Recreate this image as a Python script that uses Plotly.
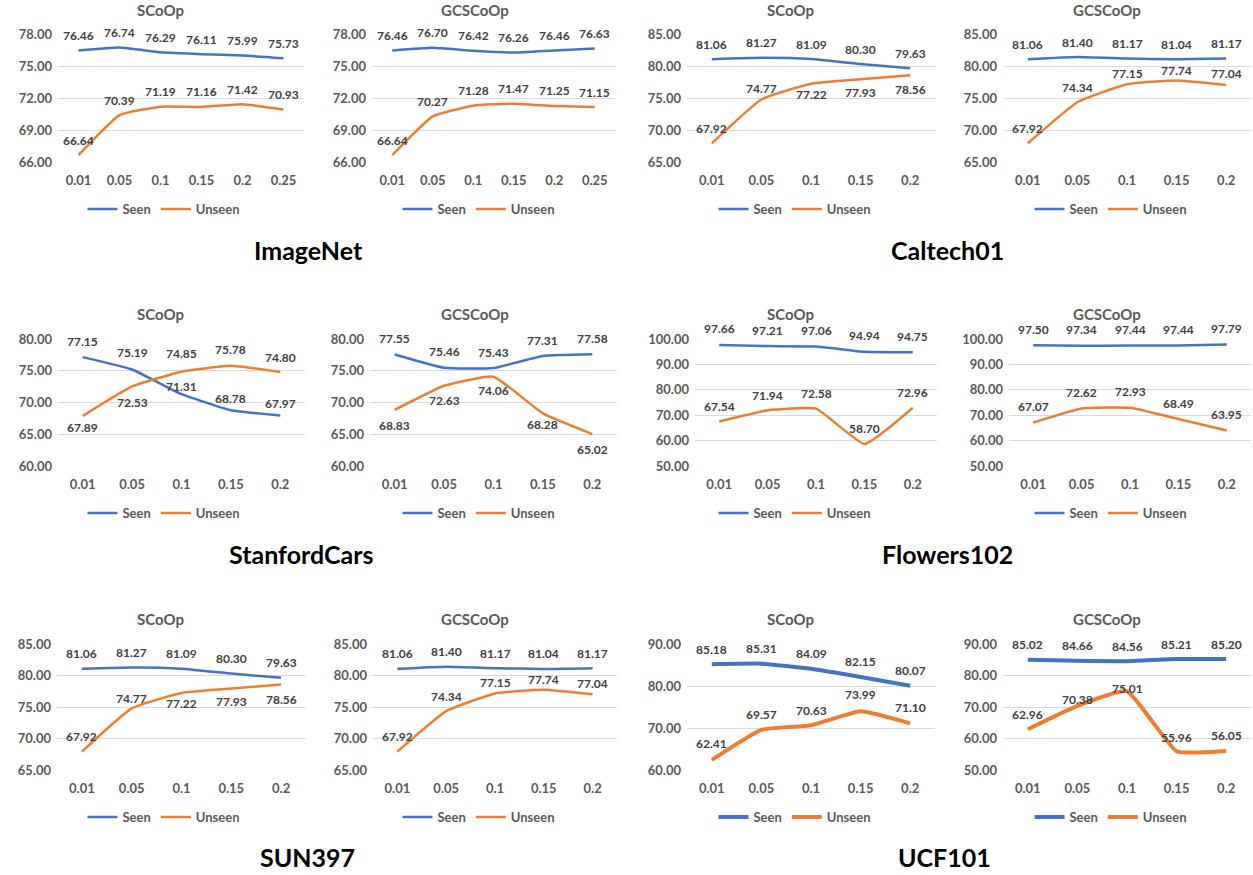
import plotly.graph_objects as go

# ---------------- data ----------------
X6 = ["0.01", "0.05", "0.1", "0.15", "0.2", "0.25"]
X5 = ["0.01", "0.05", "0.1", "0.15", "0.2"]

imagenet_scoop_seen = [76.46, 76.74, 76.29, 76.11, 75.99, 75.73]
imagenet_scoop_unseen = [66.64, 70.39, 71.19, 71.16, 71.42, 70.93]
imagenet_gcs_seen = [76.46, 76.70, 76.42, 76.26, 76.46, 76.63]
imagenet_gcs_unseen = [66.64, 70.27, 71.28, 71.47, 71.25, 71.15]

caltech_scoop_seen = [81.06, 81.27, 81.09, 80.30, 79.63]
caltech_scoop_unseen = [67.92, 74.77, 77.22, 77.93, 78.56]
caltech_gcs_seen = [81.06, 81.40, 81.17, 81.04, 81.17]
caltech_gcs_unseen = [67.92, 74.34, 77.15, 77.74, 77.04]

cars_scoop_seen = [77.15, 75.19, 71.31, 68.78, 67.97]
cars_scoop_unseen = [67.89, 72.53, 74.85, 75.78, 74.80]
cars_gcs_seen = [77.55, 75.46, 75.43, 77.31, 77.58]
cars_gcs_unseen = [68.83, 72.63, 74.06, 68.28, 65.02]

flowers_scoop_seen = [97.66, 97.21, 97.06, 94.94, 94.75]
flowers_scoop_unseen = [67.54, 71.94, 72.58, 58.70, 72.96]
flowers_gcs_seen = [97.50, 97.34, 97.44, 97.44, 97.79]
flowers_gcs_unseen = [67.07, 72.62, 72.93, 68.49, 63.95]

sun_scoop_seen = [81.06, 81.27, 81.09, 80.30, 79.63]
sun_scoop_unseen = [67.92, 74.77, 77.22, 77.93, 78.56]
sun_gcs_seen = [81.06, 81.40, 81.17, 81.04, 81.17]
sun_gcs_unseen = [67.92, 74.34, 77.15, 77.74, 77.04]

ucf_scoop_seen = [85.18, 85.31, 84.09, 82.15, 80.07]
ucf_scoop_unseen = [62.41, 69.57, 70.63, 73.99, 71.10]
ucf_gcs_seen = [85.02, 84.66, 84.56, 85.21, 85.20]
ucf_gcs_unseen = [62.96, 70.38, 75.01, 55.96, 56.05]

method_titles = ["SCoOp", "GCSCoOp"]
dataset_names = ["ImageNet", "Caltech01", "StanfordCars", "Flowers102", "SUN397", "UCF101"]
series_names = ["Seen", "Unseen"]

# ---------------- styles / layout ----------------
SEEN_C = "#4472C4"
UNSEEN_C = "#ED7D31"
GRID_C = "#D9D9D9"
TICK_C = "#595959"
LABEL_C = "#404040"
FONT = "Lato"
W, H = 1253, 875

# per panel: x, seen, unseen, y-range, dtick, line width, label offsets (px)
panels = [
    (X6, imagenet_scoop_seen, imagenet_scoop_unseen, (66, 78), 3, 2.5,
     [15] * 6, [15] * 6),
    (X6, imagenet_gcs_seen, imagenet_gcs_unseen, (66, 78), 3, 2.5,
     [15] * 6, [15] * 6),
    (X5, caltech_scoop_seen, caltech_scoop_unseen, (65, 85), 5, 2.5,
     [15] * 5, [15, 11, -11, -13, -14]),
    (X5, caltech_gcs_seen, caltech_gcs_unseen, (65, 85), 5, 2.5,
     [15] * 5, [15, 15, 11, 10, 11]),
    (X5, cars_scoop_seen, cars_scoop_unseen, (60, 80), 5, 2.5,
     [16, 17, 8, 12, 12], [-12, -16, 18, 16, 15]),
    (X5, cars_gcs_seen, cars_gcs_unseen, (60, 80), 5, 2.5,
     [16] * 5, [-16, -15, -14, -11, -15]),
    (X5, flowers_scoop_seen, flowers_scoop_unseen, (50, 100), 10, 2.5,
     [16] * 5, [15] * 5),
    (X5, flowers_gcs_seen, flowers_gcs_unseen, (50, 100), 10, 2.5,
     [16] * 5, [16] * 5),
    (X5, sun_scoop_seen, sun_scoop_unseen, (65, 85), 5, 2.5,
     [15] * 5, [15, 10, -10, -13, -15]),
    (X5, sun_gcs_seen, sun_gcs_unseen, (65, 85), 5, 2.5,
     [15] * 5, [15, 15, 11, 10, 11]),
    (X5, ucf_scoop_seen, ucf_scoop_unseen, (60, 90), 10, 4,
     [15] * 5, [16, 15, 15, 17, 16]),
    (X5, ucf_gcs_seen, ucf_gcs_unseen, (50, 90), 10, 4,
     [15] * 5, [15, 6, 3, 14, 15]),
]

# pixel geometry of plot areas (page pixels)
row_x = [
    [(58, 304), (372, 615), (687, 935), (1003, 1251)],
    [(58, 305), (370, 617), (695, 937), (1009, 1251)],
    [(57, 306), (373, 617), (687, 935), (1003, 1251)],
]
row_y = [(34, 162), (339, 466), (644, 770)]
title_y = [10, 314, 619]
legend_y = [209, 513, 817]
col_center = [161, 476, 792, 1108]
ds_pos = [(308, 250), (948, 250), (301, 554), (948, 554), (307, 857), (944, 857)]


def px(x):
    return x / W


def py(y):
    return 1 - y / H


fig = go.Figure()
layout = dict(
    width=W, height=H,
    margin=dict(l=0, r=0, t=0, b=0, autoexpand=False),
    paper_bgcolor="white", plot_bgcolor="white",
    font=dict(family=FONT, color=TICK_C),
    annotations=[],
)

for i, (xs, seen, unseen, yr, dt, lw, soff, uoff) in enumerate(panels):
    k = i + 1
    r, c = i // 4, i % 4
    sfx = "" if k == 1 else str(k)
    xa, ya = f"x{sfx}", f"y{sfx}"
    lg = "legend" if k == 1 else f"legend{k}"
    for name, vals, col in ((series_names[0], seen, SEEN_C), (series_names[1], unseen, UNSEEN_C)):
        fig.add_trace(go.Scatter(
            x=xs, y=vals, mode="lines", name=name,
            line=dict(color=col, width=lw, shape="spline", smoothing=0.4),
            xaxis=xa, yaxis=ya, legend=lg, hoverinfo="skip",
        ))
    for vals, offs in ((seen, soff), (unseen, uoff)):
        for j, (yv, off) in enumerate(zip(vals, offs)):
            layout["annotations"].append(dict(
                x=j, y=yv, xref=xa, yref=ya, text=f"{yv:.2f}",
                showarrow=False, yshift=off, xanchor="center", yanchor="middle",
                font=dict(family=FONT, size=12, color=LABEL_C, weight="bold"),
            ))
    x0, x1 = row_x[r][c]
    y0, y1 = row_y[r]
    layout[f"xaxis{sfx}"] = dict(
        domain=[px(x0), min(px(x1), 1)], anchor=ya, type="category", automargin=False,
        range=[-0.5, len(xs) - 0.5], showgrid=False, zeroline=False,
        showline=False, ticks="", ticklabelstandoff=9,
        tickfont=dict(family=FONT, size=13, color=TICK_C, weight="bold"),
    )
    layout[f"yaxis{sfx}"] = dict(
        domain=[py(y1), py(y0)], anchor=xa, automargin=False,
        range=[yr[0] - 1e-6, yr[1] + 1e-6], tick0=yr[0], dtick=dt,
        tickformat=".2f", showgrid=True, gridcolor=GRID_C, gridwidth=1,
        zeroline=False, showline=False, ticks="", ticklabelstandoff=5,
        tickfont=dict(family=FONT, size=13, color=TICK_C, weight="bold"),
    )
    layout["annotations"].append(dict(
        x=px(col_center[c] - 1), y=py(title_y[r]), xref="paper", yref="paper",
        text=method_titles[c % 2], showarrow=False, xanchor="center", yanchor="middle",
        font=dict(family=FONT, size=15, color=TICK_C, weight="bold"),
    ))
    layout[lg] = dict(
        x=px(col_center[c] + 3), y=py(legend_y[r]), xanchor="center", yanchor="middle",
        orientation="h", bgcolor="rgba(0,0,0,0)",
        font=dict(family=FONT, size=13, color=TICK_C, weight="bold"),
        itemwidth=30, tracegroupgap=0,
    )

for name, (cx, cy) in zip(dataset_names, ds_pos):
    layout["annotations"].append(dict(
        x=px(cx), y=py(cy), xref="paper", yref="paper", text=name,
        showarrow=False, xanchor="center", yanchor="middle",
        font=dict(family=FONT, size=25, color="black", weight="bold"),
    ))

fig.update_layout(**layout)
# remove the browser's default 8px body margin so the figure fills the window
fig.write_html(
    "out.html",
    config={"displayModeBar": False},
    post_script="document.body.style.margin='0';document.body.style.overflow='hidden';",
)
